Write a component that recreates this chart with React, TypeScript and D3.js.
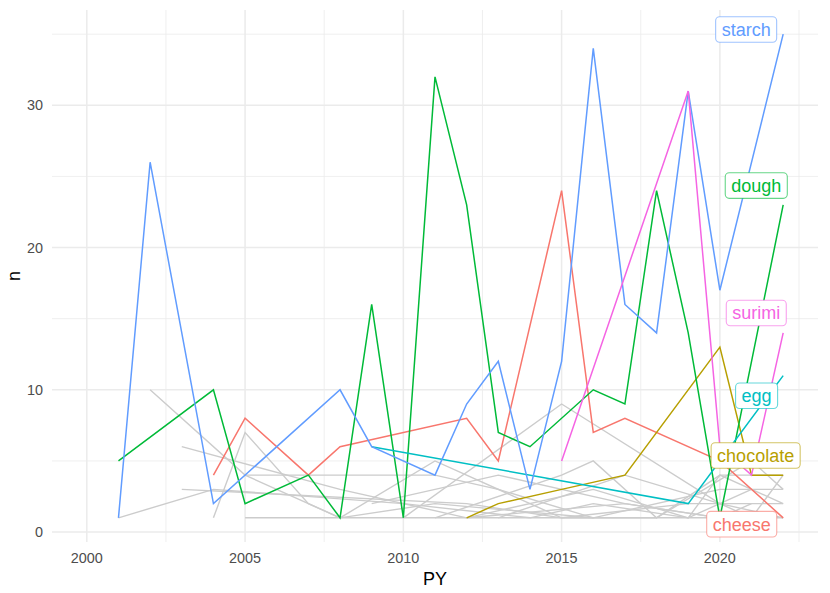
import React from "react";
import * as d3 from "d3";

const W = 830;
const H = 593;

// Highlighted categories (ggplot hue palette)
const categories = ["cheese", "chocolate", "dough", "egg", "starch", "surimi"];
const catColors = ["#F8766D", "#B79F00", "#00BA38", "#00BFC4", "#619CFF", "#F564E3"];

const cheeseYears = [2004, 2005, 2007, 2008, 2012, 2013, 2015, 2016, 2017, 2020, 2022];
const cheeseN = [4, 8, 4, 6, 8, 5, 24, 7, 8, 5, 1];

const chocolateYears = [2012, 2013, 2015, 2017, 2020, 2021, 2022];
const chocolateN = [1, 2, 3, 4, 13, 4, 4];

const doughYears = [2001, 2004, 2005, 2007, 2008, 2009, 2010, 2011, 2012, 2013, 2014, 2016, 2017, 2018, 2019, 2020, 2022];
const doughN = [5, 10, 2, 4, 1, 16, 1, 32, 23, 7, 6, 10, 9, 24, 14, 1, 23];

const eggYears = [2009, 2019, 2022];
const eggN = [6, 2, 11];

const starchYears = [2001, 2002, 2004, 2008, 2009, 2011, 2012, 2013, 2014, 2015, 2016, 2017, 2018, 2019, 2020, 2022];
const starchN = [1, 26, 2, 10, 6, 4, 9, 12, 3, 12, 34, 16, 14, 31, 17, 35];

const surimiYears = [2015, 2019, 2020, 2021, 2022];
const surimiN = [5, 31, 6, 4, 14];

// Other (grey) categories
const grey1Years = [2001, 2004, 2010, 2014];
const grey1N = [1, 3, 2, 1];
const grey2Years = [2002, 2005, 2008, 2011, 2016];
const grey2N = [10, 4, 1, 2, 1];
const grey3Years = [2003, 2008, 2012, 2017, 2020];
const grey3N = [6, 3, 1, 2, 1];
const grey4Years = [2003, 2012, 2015, 2019, 2022];
const grey4N = [3, 2, 1, 2, 2];
const grey5Years = [2004, 2005, 2007, 2008];
const grey5N = [1, 7, 2, 1];
const grey6Years = [2005, 2011, 2013, 2016, 2020, 2022];
const grey6N = [4, 4, 3, 1, 3, 3];
const grey7Years = [2005, 2022];
const grey7N = [1, 1];
const grey8Years = [2010, 2015, 2020, 2021, 2022];
const grey8N = [1, 9, 2, 1, 4];
const grey9Years = [2008, 2011, 2015, 2018, 2020, 2022];
const grey9N = [1, 5, 1, 1, 4, 2];
const grey10Years = [2011, 2015, 2016, 2018, 2021, 2022];
const grey10N = [1, 4, 5, 1, 5, 3];
const grey11Years = [2012, 2016, 2019, 2020, 2022];
const grey11N = [1, 3, 1, 4, 4];
const grey12Years = [2009, 2013, 2017, 2020, 2021];
const grey12N = [2, 4, 2, 1, 2];
const grey13Years = [2013, 2017, 2020, 2022];
const grey13N = [1, 4, 2, 1];
const grey14Years = [2014, 2016, 2019, 2021];
const grey14N = [1, 2, 1, 3];

// Label anchors (data coordinates chosen by the repel layout)
const labelX = [2020.69, 2021.13, 2021.15, 2021.16, 2020.83, 2021.15];
const labelY = [0.55, 5.38, 24.36, 9.58, 35.33, 15.4];

const xMajor = [2000, 2005, 2010, 2015, 2020];
const xMinor = [2002.5, 2007.5, 2012.5, 2017.5, 2022.5];
const yMajor = [0, 10, 20, 30];
const yMinor = [5, 15, 25, 35];

const catSeries = [
  [cheeseYears, cheeseN],
  [chocolateYears, chocolateN],
  [doughYears, doughN],
  [eggYears, eggN],
  [starchYears, starchN],
  [surimiYears, surimiN],
];
const greySeries = [
  [grey1Years, grey1N], [grey2Years, grey2N], [grey3Years, grey3N], [grey4Years, grey4N],
  [grey5Years, grey5N], [grey6Years, grey6N], [grey7Years, grey7N], [grey8Years, grey8N],
  [grey9Years, grey9N], [grey10Years, grey10N], [grey11Years, grey11N], [grey12Years, grey12N],
  [grey13Years, grey13N], [grey14Years, grey14N],
];

const FONT = "'Liberation Sans', Arial, sans-serif";

function measure(text: string, size: number): number {
  const c = document.createElement("canvas").getContext("2d");
  if (!c) return text.length * size * 0.5;
  c.font = `${size}px ${FONT}`;
  return c.measureText(text).width;
}

export default function App() {
  const left = 52, right = 818, top = 10, bottom = 542;
  const x = d3.scaleLinear().domain([1998.9, 2023.1]).range([left, right]);
  const y = d3.scaleLinear().domain([-0.7, 36.7]).range([bottom, top]);
  const line = d3
    .line<[number, number]>()
    .x((d) => x(d[0]))
    .y((d) => y(d[1]));
  const toPts = (ys: number[], ns: number[]) => ys.map((v, i) => [v, ns[i]] as [number, number]);

  const labelSize = 18;
  const tickSize = 14.4;

  return (
    <div style={{ position: "fixed", left: 0, top: 0 }}>
      <svg width={W} height={H} style={{ display: "block", background: "#fff" }} fontFamily={FONT}>
        {/* grid */}
        {yMinor.map((v) => (
          <line key={"ym" + v} x1={left} x2={right} y1={y(v)} y2={y(v)} stroke="#EBEBEB" strokeWidth={0.8} />
        ))}
        {xMinor.map((v) => (
          <line key={"xm" + v} x1={x(v)} x2={x(v)} y1={top} y2={bottom} stroke="#EBEBEB" strokeWidth={0.8} />
        ))}
        {yMajor.map((v) => (
          <line key={"yM" + v} x1={left} x2={right} y1={y(v)} y2={y(v)} stroke="#EBEBEB" strokeWidth={1.5} />
        ))}
        {xMajor.map((v) => (
          <line key={"xM" + v} x1={x(v)} x2={x(v)} y1={top} y2={bottom} stroke="#EBEBEB" strokeWidth={1.5} />
        ))}

        {/* grey lines */}
        {greySeries.map(([ys, ns], i) => (
          <path key={"g" + i} d={line(toPts(ys, ns)) || ""} fill="none" stroke="#CCCCCC" strokeWidth={1.4} />
        ))}

        {/* highlighted lines */}
        {catSeries.map(([ys, ns], i) => (
          <path key={"c" + i} d={line(toPts(ys, ns)) || ""} fill="none" stroke={catColors[i]} strokeWidth={1.5} />
        ))}

        {/* labels */}
        {categories.map((name, i) => {
          const tw = measure(name, labelSize);
          const bw = tw + 12;
          const bh = 25.6;
          const cx = x(labelX[i]);
          const cy = y(labelY[i]);
          return (
            <g key={"l" + name}>
              <rect
                x={cx - bw / 2}
                y={cy - bh / 2}
                width={bw}
                height={bh}
                rx={4}
                ry={4}
                fill="#fff"
                stroke={catColors[i]}
                strokeOpacity={0.6}
                strokeWidth={1.1}
              />
              <text x={cx} y={cy + 6.4} textAnchor="middle" fontSize={labelSize} fill={catColors[i]}>
                {name}
              </text>
            </g>
          );
        })}

        {/* axes text */}
        {xMajor.map((v) => (
          <text key={"xt" + v} x={x(v)} y={562.7} textAnchor="middle" fontSize={tickSize} fill="#4D4D4D">
            {v}
          </text>
        ))}
        {yMajor.map((v) => (
          <text key={"yt" + v} x={43} y={y(v) + 5.1} textAnchor="end" fontSize={tickSize} fill="#4D4D4D">
            {v}
          </text>
        ))}
        <text x={(left + right) / 2} y={584.5} textAnchor="middle" fontSize={18} fill="#000">
          PY
        </text>
        <text
          x={0}
          y={0}
          transform={`translate(${20},${(top + bottom) / 2}) rotate(-90)`}
          textAnchor="middle"
          fontSize={18}
          fill="#000"
        >
          n
        </text>
      </svg>
    </div>
  );
}
